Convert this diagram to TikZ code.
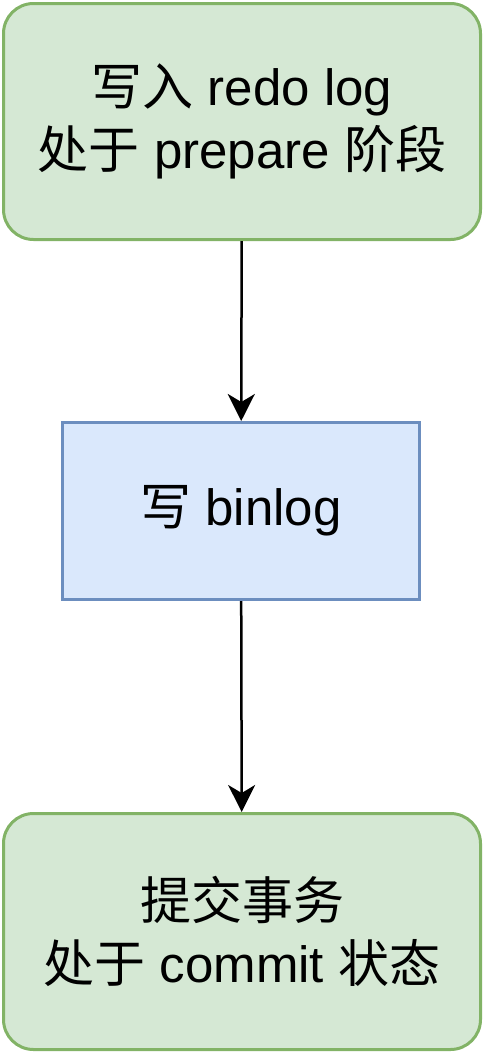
\documentclass[tikz,border=0pt]{standalone}
\usepackage{fontspec}
\setmainfont{Liberation Sans}
\newfontfamily\cjk{Noto Sans CJK SC}
\usetikzlibrary{arrows.meta,positioning}

\definecolor{stagefill}{HTML}{D5E8D4}
\definecolor{stageline}{HTML}{82B366}
\definecolor{logfill}{HTML}{DAE8FC}
\definecolor{logline}{HTML}{6C8EBF}
\tikzset{
  stagebox/.style={draw=stageline,fill=stagefill,line width=3pt,rounded corners=30pt,
    minimum width=477pt,minimum height=236pt,align=center,inner sep=0pt},
  logbox/.style={draw=logline,fill=logfill,line width=3pt,minimum width=357pt,minimum height=177pt,
    align=center,inner sep=0pt},
  flow/.style={line width=2.5pt,-{Stealth[length=27pt,width=27pt,inset=8pt]}}
}

\begin{document}
\begin{tikzpicture}[x=1pt,y=-1pt,font=\fontsize{51}{63}\selectfont]
  \useasboundingbox (0,0) rectangle (483,1053);
  \node[stagebox] (prepare) at (242,121.5) {{\cjk 写入} redo log\\{\cjk 处于} prepare {\cjk 阶段}};
  \node[logbox] (binlog) at (241,511) {{\cjk 写} binlog};
  \node[stagebox] (commit) at (242,931.5) {{\cjk 提交事务}\\{\cjk 处于} commit {\cjk 状态}};
  \draw[flow] (prepare) -- (binlog);
  \draw[flow] (binlog) -- (commit);
\end{tikzpicture}
\end{document}
